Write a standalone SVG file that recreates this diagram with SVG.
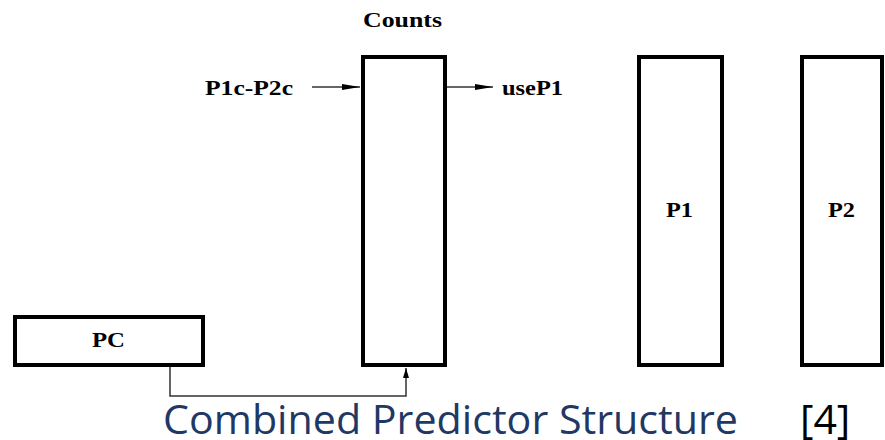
<svg xmlns="http://www.w3.org/2000/svg" width="885" height="440" viewBox="0 0 885 440">
  <style>
    .box { fill: #fff; stroke: #000; stroke-width: 4; }
    .lbl { font-family: "Liberation Serif", "DejaVu Serif", serif; font-weight: bold; font-size: 22px; fill: #000; }
    .wire { fill: none; stroke: #333; stroke-width: 1.5; }
    .title { font-family: "Open Sans", "Liberation Sans", sans-serif; font-size: 41px; fill: #1f3864; }
    .ref { font-family: "Open Sans", "Liberation Sans", sans-serif; font-size: 41px; fill: #000; }
  </style>
  <defs>
    <marker id="arrow" viewBox="0 0 10 10" refX="10" refY="5" markerWidth="10" markerHeight="10" markerUnits="userSpaceOnUse" orient="auto">
      <path d="M0,2 L10,5 L0,8 z" fill="#000"/>
    </marker>
    <marker id="arrowLong" viewBox="0 0 18 8" refX="18" refY="4" markerWidth="18" markerHeight="8" markerUnits="userSpaceOnUse" orient="auto">
      <path d="M0,1 L18,4 L0,7 z" fill="#000"/>
    </marker>
  </defs>

  <g id="counts">
    <rect class="box" x="363" y="57" width="82" height="308"/>
    <text class="lbl" x="363" y="27" textLength="79" lengthAdjust="spacingAndGlyphs">Counts</text>
  </g>
  <g id="p1">
    <rect class="box" x="639" y="57" width="83" height="308"/>
    <text class="lbl" x="666" y="217" textLength="27" lengthAdjust="spacingAndGlyphs">P1</text>
  </g>
  <g id="p2">
    <rect class="box" x="802" y="57" width="80" height="308"/>
    <text class="lbl" x="828" y="217" textLength="27" lengthAdjust="spacingAndGlyphs">P2</text>
  </g>
  <g id="pc">
    <rect class="box" x="15" y="317" width="188" height="48"/>
    <text class="lbl" x="92" y="347" textLength="33" lengthAdjust="spacingAndGlyphs">PC</text>
  </g>
  <g id="in-label">
    <text class="lbl" x="205" y="95" textLength="88" lengthAdjust="spacingAndGlyphs">P1c-P2c</text>
  </g>
  <g id="out-label">
    <text class="lbl" x="502" y="95" textLength="61" lengthAdjust="spacingAndGlyphs">useP1</text>
  </g>

  <g id="connectors">
    <line class="wire" x1="312" y1="87" x2="360" y2="87" marker-end="url(#arrowLong)"/>
    <line class="wire" x1="447" y1="87" x2="493" y2="87" marker-end="url(#arrowLong)"/>
    <polyline class="wire" points="170,367 170,396 406,396 406,368" marker-end="url(#arrow)"/>
  </g>

  <text class="title" x="163" y="434" textLength="575" lengthAdjust="spacingAndGlyphs">Combined Predictor Structure</text>
  <text class="ref" x="800" y="434">[4]</text>
</svg>
